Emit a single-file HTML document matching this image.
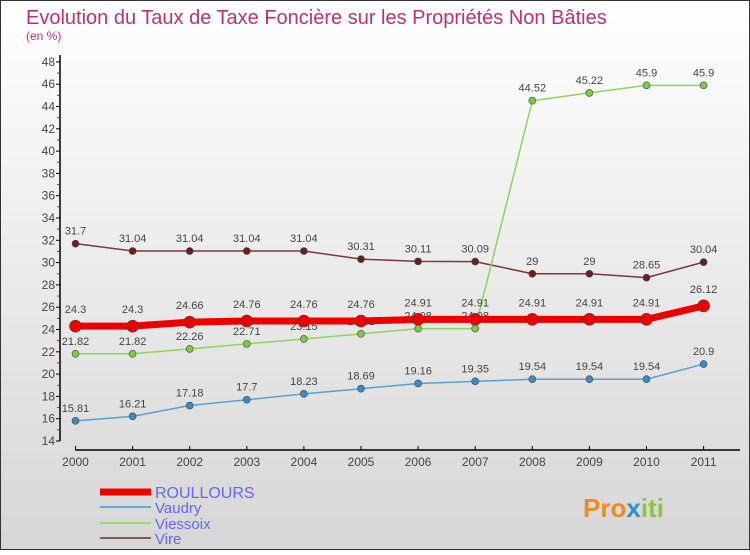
<!DOCTYPE html>
<html><head><meta charset="utf-8"><style>
body{margin:0}
svg text{font-family:"Liberation Sans",sans-serif}
</style></head><body>
<svg width="750" height="550" xmlns="http://www.w3.org/2000/svg">
<defs><linearGradient id="bg" x1="0" y1="0" x2="0" y2="1"><stop offset="0" stop-color="#ffffff"/><stop offset="1" stop-color="#d6d6d6"/></linearGradient></defs>
<rect x="0.5" y="0.5" width="749" height="549" fill="url(#bg)" stroke="#333"/>
<text x="26" y="24" font-size="20" fill="#c0306a">Evolution du Taux de Taxe Foncière sur les Propriétés Non Bâties</text>
<text x="26" y="40" font-size="12" fill="#c0306a">(en %)</text>
<g id="axes"></g>
<g id="series"></g>
<g id="legend"></g>
<text x="583" y="517" font-size="26" font-weight="bold" fill="#f08a1c">Pro<tspan fill="#2e8fd8">x</tspan><tspan fill="#8cc63f">iti</tspan></text>
</svg>
<script>
const years=["2000","2001","2002","2003","2004","2005","2006","2007","2008","2009","2010","2011"];
const yTicks=[14,16,18,20,22,24,26,28,30,32,34,36,38,40,42,44,46,48];
const roullours=[24.3,24.3,24.66,24.76,24.76,24.76,24.91,24.91,24.91,24.91,24.91,26.12];
const vaudry=[15.81,16.21,17.18,17.7,18.23,18.69,19.16,19.35,19.54,19.54,19.54,20.9];
const viessoix=[21.82,21.82,22.26,22.71,23.15,23.61,24.08,24.08,44.52,45.22,45.9,45.9];
const vire=[31.7,31.04,31.04,31.04,31.04,30.31,30.11,30.09,29,29,28.65,30.04];
const NS="http://www.w3.org/2000/svg";
const xS=i=>75.5+i*57.1;
const yS=v=>441-(v-14)*11.15;
function mk(tag,attrs,parent,text){const e=document.createElementNS(NS,tag);for(const k in attrs)e.setAttribute(k,attrs[k]);if(text!==undefined)e.textContent=text;parent.appendChild(e);return e;}
const axes=document.getElementById('axes');
let ya=mk('line',{x1:60,y1:55,x2:60,y2:441,stroke:'#000','stroke-width':1.5},axes);


yTicks.forEach(t=>{
 const l=mk('line',{x1:56,x2:60,y1:yS(t),y2:yS(t),stroke:'#000'},axes);
 
 
 if(t<48){const m=mk('line',{x1:57,x2:60,y1:yS(t+1),y2:yS(t+1),stroke:'#e00'},axes);
 
 }
 const tx=mk('text',{x:55,y:yS(t)+4,'text-anchor':'end','font-size':12,fill:'#444'},axes,t);
 
 
});
let xa=mk('line',{x1:xS(0),y1:450,x2:740,y2:450,stroke:'#000','stroke-width':1.5},axes);


years.forEach((y,i)=>{
 const l=mk('line',{x1:xS(i),x2:xS(i),y1:446,y2:450,stroke:'#000'},axes);
 
 
 const tx=mk('text',{x:xS(i),y:466,'text-anchor':'middle','font-size':12,fill:'#444'},axes,y);
 
 
});
const series=document.getElementById('series');
function draw(name,vals,color,w,r,fill,labelDy){
 const g=mk('g',{},series);
 
 
 const p=mk('polyline',{points:vals.map((v,i)=>xS(i)+','+yS(v)).join(' '),fill:'none',stroke:color,'stroke-width':w,'stroke-linejoin':'round'},g);
 
 
 vals.forEach((v,i)=>{
  const c=mk('circle',{cx:xS(i),cy:yS(v),r:r,fill:fill,stroke:'#444','stroke-width':0.6},g);
  
  
  const t=mk('text',{x:xS(i),y:yS(v)+labelDy,'text-anchor':'middle','font-size':11,fill:'#444'},g,String(v));
  
  
 });
}
draw('vire',vire,'#7a3a3a',1.5,3.5,'#6b2020',-9);
draw('viessoix',viessoix,'#8cd65a',1.5,3.5,'#7acb45',-9);
draw('vaudry',vaudry,'#5a9fd0',1.5,3.5,'#3a8ac8',-9);
draw('roullours',roullours,'#ee0000',7,6,'#ee0000',-13);
const legend=document.getElementById('legend');
[["ROULLOURS","#ee0000",7,492,16],["Vaudry","#6aa8d8",2,507,15],["Viessoix","#99d872",2,523,15],["Vire","#8a5555",2,538,15]].forEach(e=>{
 const g=mk('g',{},legend);
 
 
 mk('line',{x1:100,x2:151,y1:e[3],y2:e[3],stroke:e[1],'stroke-width':e[2]},g);
 mk('text',{x:155,y:e[3]+6,'font-size':e[4],fill:'#6666ee'},g,e[0]);
});
</script>
</body></html>
